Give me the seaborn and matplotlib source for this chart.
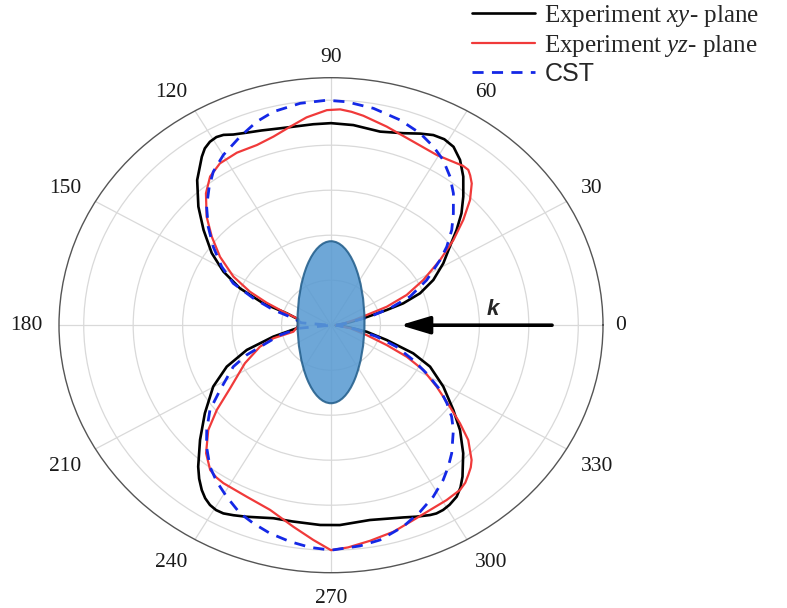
import numpy as np
import pandas as pd
import matplotlib
matplotlib.use("Agg")
import matplotlib.pyplot as plt
import matplotlib.patches as mpatches
import matplotlib.transforms as mtransforms
import seaborn as sns

# ---------------- data (angle in degrees, normalized radius) ----------------
xy_theta = [0, 5, 10, 13.2, 16.7, 18.4, 21.5, 25.9, 31.2, 36.0, 39.8, 43.3, 46.9, 51.0, 54.6,
            58.0, 61, 63.9, 67, 71.1, 77.0, 84.2, 90, 94.6, 103.3, 108, 111.7, 115, 117.2, 119,
            121, 123, 124.9, 130, 135.5, 140.6, 146.4, 151.3, 156, 160.5, 163.5, 168.8, 180,
            185.7, 192.3, 197.9, 203.6, 209.8, 217.5, 223.9, 229.5, 232, 234.5, 236.5, 238.5,
            240.5, 242.5, 245, 248.2, 254.8, 259.9, 267.2, 272.3, 280.3, 285, 288.9, 292,
            295.4, 297, 298.9, 301, 303.7, 306, 308.3, 313.2, 318.2, 322.7, 329, 335.3, 339.4,
            343.7, 348.6, 352, 356, 360]
xy_r = [0.02, 0.04, 0.08, 0.134, 0.235, 0.308, 0.387, 0.460, 0.531, 0.594, 0.661, 0.725, 0.783,
        0.850, 0.901, 0.935, 0.945, 0.941, 0.925, 0.902, 0.883, 0.894, 0.898, 0.896, 0.899,
        0.910, 0.921, 0.935, 0.951, 0.956, 0.951, 0.937, 0.913, 0.842, 0.752, 0.667, 0.579,
        0.496, 0.403, 0.290, 0.187, 0.135, 0.13, 0.14, 0.239, 0.358, 0.460, 0.549, 0.643,
        0.735, 0.827, 0.866, 0.900, 0.922, 0.937, 0.944, 0.943, 0.932, 0.917, 0.889, 0.886,
        0.889, 0.889, 0.880, 0.890, 0.903, 0.918, 0.934, 0.939, 0.938, 0.931, 0.916, 0.891,
        0.858, 0.781, 0.700, 0.622, 0.530, 0.441, 0.355, 0.235, 0.147, 0.08, 0.04, 0.02]

yz_theta = [0, 8, 14, 17.4, 20, 23.7, 28.3, 33.3, 37.4, 41.2, 44.7, 47.9, 49.8, 51.2, 53, 54.8,
            60.5, 67.8, 75.7, 82, 85, 87.8, 91, 96.1, 100.7, 105.5, 110.5, 116.4, 122, 126.5,
            130.8, 136.2, 140.8, 145.9, 151.3, 155.6, 159, 162.7, 167.4, 180, 190.8, 194,
            198.4, 205.9, 214.5, 219.2, 223.2, 228.4, 232.8, 235.5, 238.2, 245.9, 253.3, 260.4,
            265.7, 270, 274, 279.4, 285.4, 291, 295.9, 301, 305.5, 307.8, 309.8, 311.8, 313.5,
            317.4, 320.1, 323, 327.4, 331.9, 335.4, 338.6, 343, 350, 360]
yz_r = [0.02, 0.05, 0.10, 0.151, 0.240, 0.334, 0.424, 0.528, 0.623, 0.711, 0.791, 0.849, 0.872,
        0.886, 0.887, 0.881, 0.869, 0.881, 0.911, 0.940, 0.952, 0.960, 0.956, 0.929, 0.897,
        0.870, 0.855, 0.856, 0.848, 0.822, 0.774, 0.697, 0.622, 0.542, 0.450, 0.360, 0.279,
        0.202, 0.142, 0.13, 0.155, 0.240, 0.303, 0.387, 0.495, 0.596, 0.681, 0.761, 0.808,
        0.820, 0.826, 0.835, 0.857, 0.909, 0.957, 1.0, 0.99, 0.971, 0.952, 0.928, 0.914,
        0.907, 0.899, 0.886, 0.867, 0.848, 0.826, 0.754, 0.680, 0.602, 0.507, 0.423, 0.337,
        0.242, 0.151, 0.08, 0.02]

cst_theta = [0, 8, 13.5, 17.5, 21.7, 27.4, 33.3, 36.7, 40.9, 45.1, 49.8, 53.9, 58.3, 62.4, 67.1,
             73, 79.9, 86.4, 91, 97.2, 103.8, 108.4, 113.7, 119.9, 124.9, 128.7, 133.7, 138.6,
             143.8, 149.5, 154.8, 159.1, 163.7, 168.5, 175, 180, 186, 192, 197.8, 201.2, 205,
             212.7, 217.6, 222.8, 227, 232.1, 236.4, 241, 246.2, 250.4, 255, 260.2, 265.1, 270,
             276.8, 281.7, 288, 293.5, 298.5, 303.4, 307, 310.6, 316.7, 320.2, 323.5, 326.9,
             331, 335, 340.1, 344.6, 350, 360]
cst_r = [0.02, 0.06, 0.162, 0.250, 0.344, 0.436, 0.528, 0.584, 0.646, 0.701, 0.767, 0.817, 0.863,
         0.895, 0.926, 0.954, 0.979, 0.995, 1.0, 0.994, 0.977, 0.953, 0.915, 0.873, 0.832,
         0.788, 0.728, 0.662, 0.590, 0.513, 0.437, 0.336, 0.243, 0.155, 0.12, 0.0, 0.13,
         0.211, 0.288, 0.366, 0.436, 0.533, 0.618, 0.685, 0.738, 0.797, 0.835, 0.871, 0.913,
         0.935, 0.957, 0.976, 0.991, 1.0, 0.988, 0.975, 0.942, 0.904, 0.867, 0.824, 0.788,
         0.750, 0.680, 0.635, 0.583, 0.527, 0.442, 0.367, 0.282, 0.192, 0.10, 0.02]

angle_ticks = list(range(0, 360, 30))
angle_labels = [str(a) for a in angle_ticks]
r_ticks = [0.2, 0.4, 0.6, 0.8, 1.0]
r_max = 1.1
series_labels = [r"Experiment $\mathit{xy}$- plane", r"Experiment $\mathit{yz}$- plane", "CST"]

# ---------------- styling ----------------
sns.set_theme(style="white")
plt.rcParams["font.family"] = ["Liberation Serif", "DejaVu Serif"]
plt.rcParams["mathtext.fontset"] = "custom"
plt.rcParams["mathtext.rm"] = "Liberation Serif"
plt.rcParams["mathtext.it"] = "Liberation Serif:italic"

fig = plt.figure(figsize=(7.87, 6.08), dpi=100)
ax = fig.add_axes([59 / 787, 35.3 / 608, 544 / 787, 495 / 608], projection="polar")
ax.set_aspect("auto")

def draw(theta, r, **kw):
    df = pd.DataFrame({"theta": np.deg2rad(theta), "r": r})
    sns.lineplot(data=df, x="theta", y="r", ax=ax, sort=False, estimator=None, **kw)

draw(xy_theta, xy_r, color="black", lw=1.9, zorder=3)
draw(yz_theta, yz_r, color="#f03a3a", lw=1.6, zorder=4)
draw(cst_theta, cst_r, color="#1428e6", lw=2.0, linestyle=(0, (4, 3)), zorder=5)

ax.set_xlabel("")
ax.set_ylabel("")
ax.set_rlim(0, r_max)
ax.set_rticks(r_ticks)
ax.set_yticklabels([])
ax.set_thetagrids(angle_ticks, [""] * len(angle_ticks))
ax.grid(True, color="#d9d9d9", lw=0.9)
ax.spines["polar"].set_color("#555555")
ax.spines["polar"].set_linewidth(1.0)
ax.tick_params(axis="x", direction="in", length=8, width=1, color="#666666")

# angle labels, anchored just outside the rim and aligned away from it
pad_pt = 11.5
for a, lab in zip(angle_ticks, angle_labels):
    c, s = np.cos(np.deg2rad(a)), np.sin(np.deg2rad(a))
    ha = "left" if c > 0.1 else ("right" if c < -0.1 else "center")
    va = "bottom" if s > 0.1 else ("top" if s < -0.1 else "center")
    dx = pad_pt * c - (2.5 if abs(s) < 0.1 and c > 0 else 0)
    dy = pad_pt * s - (3.5 if s > 0.1 else 0)
    tr = mtransforms.offset_copy(ax.transData, fig=fig, x=dx, y=dy, units="points")
    ax.text(np.deg2rad(a), r_max, lab, transform=tr, ha=ha, va=va, fontsize=15.5,
            color="#1a1a1a", family="Liberation Serif", clip_on=False)

if ax.get_legend() is not None:
    ax.get_legend().remove()

# central ellipse (sample)
ell = mpatches.Ellipse((0.5, 0.506), width=67 / 544, height=162 / 495,
                       transform=ax.transAxes, facecolor="#5a9bd2", edgecolor="#245f8c",
                       lw=1.5, alpha=0.88, zorder=6)
ax.add_patch(ell)

# incident wave arrow
ax.annotate("", xy=(0.0, 0.28), xytext=(0.0, 0.894), xycoords="data",
            arrowprops=dict(arrowstyle="-|>,head_length=1.5,head_width=0.45",
                            color="black", lw=2.6, shrinkA=0, shrinkB=0), zorder=7)
ax.text((493 - 59) / 544, (572.7 - 310) / 495, "k", transform=ax.transAxes,
        fontsize=16, fontweight="bold", fontstyle="italic", family="Liberation Sans",
        ha="center", va="center")

# legend
lines = ax.get_lines()
handles = [lines[0], lines[1], lines[2]]
leg = fig.legend(handles, series_labels, loc="upper left",
                 bbox_to_anchor=(472 / 787, 0.995), frameon=False, fontsize=18,
                 handlelength=2.5, handletextpad=0.4, labelspacing=0.14,
                 borderpad=0, borderaxespad=0)
leg.get_texts()[2].set_fontfamily("Liberation Sans")

fig.savefig("out.png", dpi=100)
